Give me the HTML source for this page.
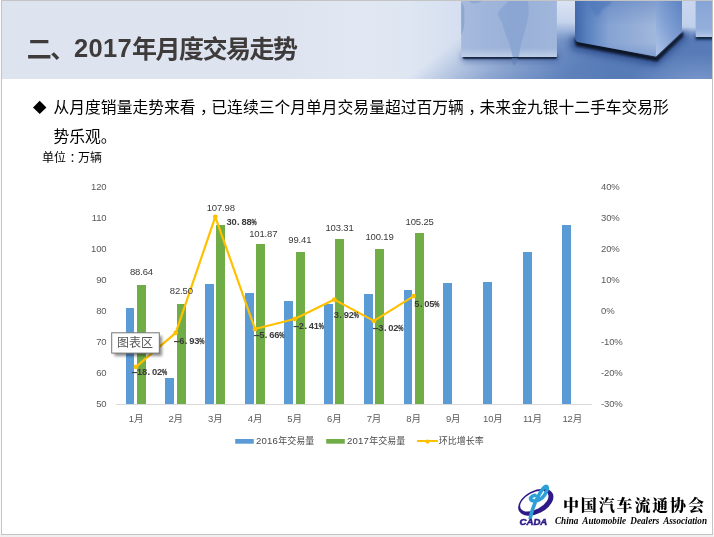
<!DOCTYPE html>
<html lang="zh-CN"><head><meta charset="utf-8"><title>二、2017年月度交易走势</title>
<style>
html,body{margin:0;padding:0;width:714px;height:537px;overflow:hidden;background:#f0f0f0;}
svg{position:absolute;left:0;top:0;display:block;}
text{font-family:"Liberation Sans","Noto Sans CJK SC",sans-serif;}
.ax{font-size:9.5px;fill:#595959;letter-spacing:-0.15px;}
.dl{font-size:9.5px;fill:#3a3a3a;text-anchor:middle;letter-spacing:-0.15px;}
.pl{font-weight:bold;font-size:9.4px;fill:#3c3c3c;}
.lg{font-size:9px;fill:#4a4a4a;}
.lgd{font-size:9.6px;letter-spacing:0.2px;}
.body{font-size:15.78px;fill:#000;}
.cn{font-family:"Liberation Serif","Noto Serif CJK SC",serif;font-size:16px;font-weight:900;fill:#000;letter-spacing:1.85px;}
.cada{font-size:8.6px;font-weight:bold;font-style:italic;fill:#2e1a87;stroke:#2e1a87;stroke-width:0.5px;}
.en{font-family:"Liberation Serif","Noto Serif CJK SC",serif;font-size:9.6px;font-style:italic;font-weight:bold;fill:#000;word-spacing:2px;}
</style></head><body>
<svg width="714" height="537" viewBox="0 0 714 537">
<defs>
<linearGradient id="bg" gradientUnits="userSpaceOnUse" x1="0" y1="0" x2="714" y2="0"><stop offset="0" stop-color="#dde4f0"/><stop offset="0.4" stop-color="#dde4f0"/><stop offset="0.5" stop-color="#e1e8f3"/><stop offset="0.57" stop-color="#dee6f2"/><stop offset="0.645" stop-color="#d5dff0"/><stop offset="1" stop-color="#d0dcf0"/></linearGradient>
<linearGradient id="floorx" gradientUnits="userSpaceOnUse" x1="410" y1="76.5" x2="472" y2="153"><stop offset="0" stop-color="#6385be" stop-opacity="0"/><stop offset="0.25" stop-color="#6385be" stop-opacity="0.3"/><stop offset="0.5" stop-color="#6385be" stop-opacity="0.62"/><stop offset="0.75" stop-color="#6385be" stop-opacity="0.85"/><stop offset="1" stop-color="#6385be" stop-opacity="1"/></linearGradient>
<linearGradient id="floorra" gradientUnits="userSpaceOnUse" x1="540" y1="0" x2="610" y2="0"><stop offset="0" stop-color="#5378b4" stop-opacity="0"/><stop offset="1" stop-color="#5378b4" stop-opacity="0.75"/></linearGradient>
<radialGradient id="floorlt" gradientUnits="userSpaceOnUse" cx="700" cy="84" r="70" gradientTransform="translate(700 84) scale(1 0.45) translate(-700 -84)"><stop offset="0" stop-color="#7f9ccf" stop-opacity="0.9"/><stop offset="1" stop-color="#7f9ccf" stop-opacity="0"/></radialGradient>
<linearGradient id="gap1" x1="0" y1="0" x2="0" y2="1"><stop offset="0" stop-color="#dbe4f3"/><stop offset="0.5" stop-color="#c6d4ec"/><stop offset="0.75" stop-color="#9fb5dc" stop-opacity="0.8"/><stop offset="1" stop-color="#7d9bce" stop-opacity="0"/></linearGradient>
<linearGradient id="gap2" x1="0" y1="0" x2="0" y2="1"><stop offset="0" stop-color="#c8d6ee"/><stop offset="0.65" stop-color="#c2d1eb"/><stop offset="0.8" stop-color="#8ea9d6" stop-opacity="0.7"/><stop offset="1" stop-color="#5f82bb" stop-opacity="0"/></linearGradient>
<linearGradient id="c1" x1="0" y1="0" x2="1" y2="0"><stop offset="0" stop-color="#a6badd"/><stop offset="0.25" stop-color="#a0b5da"/><stop offset="0.6" stop-color="#9ab1d8"/><stop offset="1" stop-color="#a0b6db"/></linearGradient>
<linearGradient id="c1hl" x1="0" y1="0" x2="0" y2="1"><stop offset="0" stop-color="#c3d2ea" stop-opacity="0"/><stop offset="1" stop-color="#c3d2ea" stop-opacity="0.9"/></linearGradient>
<linearGradient id="c2l" x1="0" y1="0" x2="1" y2="0"><stop offset="0" stop-color="#3f66a9"/><stop offset="0.14" stop-color="#5780be"/><stop offset="0.42" stop-color="#86a3d3"/><stop offset="1" stop-color="#a1b7dc"/></linearGradient>
<linearGradient id="c2lv" x1="0" y1="0" x2="0" y2="1"><stop offset="0" stop-color="#4d74b6" stop-opacity="0.4"/><stop offset="0.45" stop-color="#4d74b6" stop-opacity="0"/><stop offset="0.75" stop-color="#5f85c4" stop-opacity="0"/><stop offset="1" stop-color="#5f85c4" stop-opacity="0.45"/></linearGradient>
<linearGradient id="c2r" x1="1" y1="0" x2="0" y2="1"><stop offset="0" stop-color="#5d83c3"/><stop offset="0.5" stop-color="#809fd3"/><stop offset="1" stop-color="#b0c5e8"/></linearGradient>
<linearGradient id="c3" x1="0" y1="0" x2="0" y2="1"><stop offset="0" stop-color="#86a4d6"/><stop offset="0.8" stop-color="#94afdb"/><stop offset="1" stop-color="#b5c8e8"/></linearGradient>
<filter id="b05" x="-50%" y="-50%" width="200%" height="200%"><feGaussianBlur stdDeviation="0.5"/></filter>
<filter id="b1" x="-20%" y="-100%" width="140%" height="300%"><feGaussianBlur stdDeviation="0.8"/></filter>
<filter id="b2" x="-50%" y="-50%" width="200%" height="200%"><feGaussianBlur stdDeviation="1.5"/></filter>
<filter id="b3" x="-50%" y="-100%" width="200%" height="300%"><feGaussianBlur stdDeviation="3"/></filter>
<clipPath id="bclip"><rect x="2" y="1" width="710" height="78"/></clipPath>
<filter id="sh" x="-20%" y="-20%" width="150%" height="160%"><feGaussianBlur stdDeviation="1.5"/></filter>
</defs>
<rect x="0" y="0" width="714" height="537" fill="#f0f0f0"/>
<rect x="0" y="0" width="714" height="534" fill="#fbfbfb"/>
<rect x="1.5" y="0.5" width="711" height="534" fill="#fff" stroke="#c4c4c4" stroke-width="1"/>
<g clip-path="url(#bclip)">
<rect x="2" y="1" width="710" height="78" fill="url(#bg)"/>
<rect x="380" y="1" width="332" height="78" fill="url(#floorx)"/>
<rect x="540" y="1" width="172" height="78" fill="url(#floorra)"/>
<rect x="600" y="40" width="112" height="39" fill="url(#floorlt)"/>
<rect x="556" y="1" width="20" height="42" fill="url(#gap1)"/>
<rect x="682" y="1" width="14" height="40" fill="url(#gap2)"/>
<rect x="462" y="52" width="97" height="10" fill="#3f5f9f" opacity="0.6" filter="url(#b3)"/>
<rect x="463" y="55.5" width="94" height="3.2" fill="#16233f" filter="url(#b1)"/>
<rect x="463" y="56.4" width="93.5" height="2.2" rx="1" fill="#16233f" opacity="0.9"/>
<rect x="461.2" y="1" width="95.7" height="56" fill="url(#c1)"/>
<rect x="461.2" y="48" width="95.7" height="9" fill="url(#c1hl)"/>
<path d="M508.6 1 C505 5 501 8 499 11 C497 13.5 498 16 499.5 18.5 C501.5 21.5 502.5 24 503.5 27.5 C504.5 31 505.5 35 507.5 39 C509 42.5 510 46 511 50 C511.8 53 512.3 55 513 57 L519 57 C519.3 54 519.6 51 520.3 48 C521 44.5 522 41 523 37.5 C524.2 33.5 525.5 29.5 526.5 25 C527.5 20.5 528.6 16 528.7 11.5 C528.8 8 528.3 4.5 528 1 Z" fill="#86a3d1" opacity="0.75" filter="url(#b05)"/>
<path d="M511.5 58 C512 61.5 512.8 64.5 514.3 66 C515.5 64 517 61 517.8 58 Z" fill="#5f7fb8" opacity="0.55" filter="url(#b05)"/>
<path d="M461.2 2 C463.5 4 464.5 7 464.3 11 C464.2 16 465 21 464 26 C463.5 30 462.5 33 461.2 35 Z M469 1 L482.5 1 C480 3 476 3.5 472.5 3.3 C471 3 470 2 469 1 Z" fill="#86a3d1" opacity="0.75" filter="url(#b05)"/>
<path d="M571 36 L656 57 L685 30 L688 37 L657 66 L571 50 Z" fill="#2a4a8a" opacity="0.75" filter="url(#b3)"/>
<path d="M574.5 38 L656 56.5 L683 31.5 L683.5 36 L657 61.5 L576 46 Z" fill="#0a1226" filter="url(#b1)"/>
<path d="M575 1 L656 1 L656 56.5 L578.5 42.3 Q575 41.5 575 38 Z" fill="url(#c2l)"/>
<path d="M575 1 L656 1 L656 56.5 L578.5 42.3 Q575 41.5 575 38 Z" fill="url(#c2lv)"/>
<path d="M656 1 L682 1 L682 32 L656 56.5 Z" fill="url(#c2r)"/>
<path d="M656.5 1 L656.5 56" stroke="#b7caea" stroke-width="2.5" opacity="0.6" filter="url(#b1)"/>
<path d="M575.6 1 L575.6 39" stroke="#0f1a33" stroke-width="1.8" opacity="0.9" filter="url(#b05)"/>
<path d="M681.8 1 L681.8 31" stroke="#2a4280" stroke-width="1.2" opacity="0.6" filter="url(#b05)"/>
<path d="M588 1 L612 1 C611 5 606 6 603 9 C600 13 598 18 595 15 C592 11 590 6 588 1 Z" fill="#4f77ba" opacity="0.6" filter="url(#b1)"/>
<rect x="695" y="33" width="19" height="8" fill="#2f4f8f" opacity="0.6" filter="url(#b2)"/>
<rect x="696" y="35.5" width="18" height="3.5" fill="#0f1a33" filter="url(#b1)"/>
<rect x="695.6" y="1" width="17" height="36" fill="url(#c3)"/>
</g>
<text x="26.7" y="58.4" style="font-size:25px;font-weight:bold;fill:#3f3b3b;letter-spacing:-1.5px">二、<tspan dx="0.2" dy="-1.6" style="font-size:25.5px;letter-spacing:0.33px">2017</tspan><tspan dx="0.1" dy="1.6">年月度交易走势</tspan></text>
<path d="M39.7 100.8 L46.4 107.4 L39.7 114 L33 107.4 Z" fill="#000"/>
<text class="body" x="53.5" y="113.3" dx="0 0 0 0 0 0 0 0 0 4.5 -4.5 0 0 0 0 0 0 0 0 0 0 0 0 0 0 0 4.5 -4.5">从月度销量走势来看，已连续三个月单月交易量超过百万辆，未来金九银十二手车交易形</text>
<text class="body" x="53.5" y="142.2">势乐观。</text>
<text x="42" y="161.5" dx="0 0 3.5 -3.5" style="font-size:12px;fill:#000;">单位：万辆</text>
<line x1="116.2" y1="404.5" x2="592.0" y2="404.5" stroke="#d9d9d9" stroke-width="1"/>
<rect x="126" y="308" width="8" height="96" fill="#5b9bd5"/>
<rect x="165" y="378" width="9" height="26" fill="#5b9bd5"/>
<rect x="205" y="284" width="9" height="120" fill="#5b9bd5"/>
<rect x="245" y="293" width="9" height="111" fill="#5b9bd5"/>
<rect x="284" y="301" width="9" height="103" fill="#5b9bd5"/>
<rect x="324" y="304" width="9" height="100" fill="#5b9bd5"/>
<rect x="364" y="294" width="9" height="110" fill="#5b9bd5"/>
<rect x="404" y="290" width="8" height="114" fill="#5b9bd5"/>
<rect x="443" y="283" width="9" height="121" fill="#5b9bd5"/>
<rect x="483" y="282" width="9" height="122" fill="#5b9bd5"/>
<rect x="523" y="252" width="9" height="152" fill="#5b9bd5"/>
<rect x="562" y="225" width="9" height="179" fill="#5b9bd5"/>
<rect x="137" y="285" width="9" height="119" fill="#70ad47"/>
<rect x="177" y="304" width="9" height="100" fill="#70ad47"/>
<rect x="216" y="225" width="9" height="179" fill="#70ad47"/>
<rect x="256" y="244" width="9" height="160" fill="#70ad47"/>
<rect x="296" y="252" width="9" height="152" fill="#70ad47"/>
<rect x="335" y="239" width="9" height="165" fill="#70ad47"/>
<rect x="375" y="249" width="9" height="155" fill="#70ad47"/>
<rect x="415" y="233" width="9" height="171" fill="#70ad47"/>
<text class="ax" x="106.5" y="406.5" text-anchor="end">50</text>
<text class="ax" x="106.5" y="375.5" text-anchor="end">60</text>
<text class="ax" x="106.5" y="344.5" text-anchor="end">70</text>
<text class="ax" x="106.5" y="313.5" text-anchor="end">80</text>
<text class="ax" x="106.5" y="282.5" text-anchor="end">90</text>
<text class="ax" x="106.5" y="251.5" text-anchor="end">100</text>
<text class="ax" x="106.5" y="220.5" text-anchor="end">110</text>
<text class="ax" x="106.5" y="189.5" text-anchor="end">120</text>
<text class="ax" x="601" y="406.5">-30%</text>
<text class="ax" x="601" y="375.5">-20%</text>
<text class="ax" x="601" y="344.5">-10%</text>
<text class="ax" x="601" y="313.5">0%</text>
<text class="ax" x="601" y="282.5">10%</text>
<text class="ax" x="601" y="251.5">20%</text>
<text class="ax" x="601" y="220.5">30%</text>
<text class="ax" x="601" y="189.5">40%</text>
<text class="ax" x="136.0" y="422" text-anchor="middle">1月</text>
<text class="ax" x="175.7" y="422" text-anchor="middle">2月</text>
<text class="ax" x="215.3" y="422" text-anchor="middle">3月</text>
<text class="ax" x="255.0" y="422" text-anchor="middle">4月</text>
<text class="ax" x="294.6" y="422" text-anchor="middle">5月</text>
<text class="ax" x="334.3" y="422" text-anchor="middle">6月</text>
<text class="ax" x="373.9" y="422" text-anchor="middle">7月</text>
<text class="ax" x="413.6" y="422" text-anchor="middle">8月</text>
<text class="ax" x="453.2" y="422" text-anchor="middle">9月</text>
<text class="ax" x="492.9" y="422" text-anchor="middle">10月</text>
<text class="ax" x="532.5" y="422" text-anchor="middle">11月</text>
<text class="ax" x="572.2" y="422" text-anchor="middle">12月</text>
<polyline points="136.0,366.9 175.7,332.9 215.3,216.8 255.0,329.0 294.6,319.0 334.3,299.6 373.9,320.9 413.6,296.1" fill="none" stroke="#ffc000" stroke-width="2.2" stroke-linejoin="round" stroke-linecap="round"/>
<circle cx="136.0" cy="366.9" r="2.4" fill="#ffc000"/>
<circle cx="175.7" cy="332.9" r="2.4" fill="#ffc000"/>
<circle cx="215.3" cy="216.8" r="2.4" fill="#ffc000"/>
<circle cx="255.0" cy="329.0" r="2.4" fill="#ffc000"/>
<circle cx="294.6" cy="319.0" r="2.4" fill="#ffc000"/>
<circle cx="334.3" cy="299.6" r="2.4" fill="#ffc000"/>
<circle cx="373.9" cy="320.9" r="2.4" fill="#ffc000"/>
<circle cx="413.6" cy="296.1" r="2.4" fill="#ffc000"/>
<text class="dl" x="141.5" y="275.3">88.64</text>
<text class="dl" x="181.3" y="294.4">82.50</text>
<text class="dl" x="220.8" y="210.7">107.98</text>
<text class="dl" x="263.3" y="236.6">101.87</text>
<text class="dl" x="299.8" y="242.7">99.41</text>
<text class="dl" x="339.5" y="230.7">103.31</text>
<text class="dl" x="379.5" y="239.7">100.19</text>
<text class="dl" x="419.6" y="224.5">105.25</text>
<text class="pl" y="375.0"><tspan x="130.9" textLength="7" lengthAdjust="spacingAndGlyphs">-</tspan><tspan x="136.9 141.9 147.5 151.9 156.9">18.02</tspan><tspan x="161.9" textLength="5.2" lengthAdjust="spacingAndGlyphs" stroke="#3c3c3c" stroke-width="0.3">%</tspan></text>
<text class="pl" y="344.3"><tspan x="173.2" textLength="7" lengthAdjust="spacingAndGlyphs">-</tspan><tspan x="179.2 184.8 189.2 194.2">6.93</tspan><tspan x="199.2" textLength="5.2" lengthAdjust="spacingAndGlyphs" stroke="#3c3c3c" stroke-width="0.3">%</tspan></text>
<text class="pl" y="224.9"><tspan x="226.4 231.4 237.0 241.4 246.4">30.88</tspan><tspan x="251.4" textLength="5.2" lengthAdjust="spacingAndGlyphs" stroke="#3c3c3c" stroke-width="0.3">%</tspan></text>
<text class="pl" y="338.2"><tspan x="253.2" textLength="7" lengthAdjust="spacingAndGlyphs">-</tspan><tspan x="259.2 264.8 269.2 274.2">5.66</tspan><tspan x="279.2" textLength="5.2" lengthAdjust="spacingAndGlyphs" stroke="#3c3c3c" stroke-width="0.3">%</tspan></text>
<text class="pl" y="329.1"><tspan x="292.8" textLength="7" lengthAdjust="spacingAndGlyphs">-</tspan><tspan x="298.8 304.4 308.8 313.8">2.41</tspan><tspan x="318.8" textLength="5.2" lengthAdjust="spacingAndGlyphs" stroke="#3c3c3c" stroke-width="0.3">%</tspan></text>
<text class="pl" y="318.0"><tspan x="333.7 339.3 343.7 348.7">3.92</tspan><tspan x="353.7" textLength="5.2" lengthAdjust="spacingAndGlyphs" stroke="#3c3c3c" stroke-width="0.3">%</tspan></text>
<text class="pl" y="331.1"><tspan x="372.3" textLength="7" lengthAdjust="spacingAndGlyphs">-</tspan><tspan x="378.3 383.9 388.3 393.3">3.02</tspan><tspan x="398.3" textLength="5.2" lengthAdjust="spacingAndGlyphs" stroke="#3c3c3c" stroke-width="0.3">%</tspan></text>
<text class="pl" y="307.2"><tspan x="414.3 419.9 424.3 429.3">5.05</tspan><tspan x="434.3" textLength="5.2" lengthAdjust="spacingAndGlyphs" stroke="#3c3c3c" stroke-width="0.3">%</tspan></text>
<rect x="235.2" y="439" width="18.6" height="4.7" fill="#5b9bd5"/>
<text class="lg" x="256" y="444.3"><tspan class="lgd">2016</tspan>年交易量</text>
<rect x="326.2" y="439" width="18.6" height="4.7" fill="#70ad47"/>
<text class="lg" x="347" y="444.3"><tspan class="lgd">2017</tspan>年交易量</text>
<line x1="417.8" y1="441" x2="437.2" y2="441" stroke="#ffc000" stroke-width="1.8" stroke-linecap="round"/>
<circle cx="427.5" cy="441.6" r="2.1" fill="#ffc000"/>
<text class="lg" x="438.7" y="444.3">环比增长率</text>
<rect x="114.5" y="336" width="47.5" height="20" fill="#000" opacity="0.45" filter="url(#sh)"/>
<rect x="111.7" y="332.8" width="47.6" height="20.3" fill="#fff" stroke="#767676" stroke-width="1"/>
<text x="117" y="347.2" style="font-size:12px;fill:#575757;">图表区</text>
<g>
<g transform="rotate(-28 535.8 502.2)"><path fill-rule="evenodd" fill="#2e1a87" d="M516.8 502.2 a19 11.5 0 1 0 38 0 a19 11.5 0 1 0 -38 0 Z M519.6 500.6 a15.4 8.4 0 1 0 30.8 0 a15.4 8.4 0 1 0 -30.8 0 Z"/></g>
<path d="M530.3 518 C532 510 535.5 500 540 493 C542.5 489 545.3 485.2 546.8 486.6 C548.3 488.5 546 494 542.5 497.5 C539.5 500.5 534 502 531.5 500.3 C529.3 498.6 531.5 495.8 535 495.3" fill="none" stroke="#2da0d8" stroke-width="3.6" stroke-linecap="round" stroke-linejoin="round"/>
<text class="cada" x="519.5" y="525.4" textLength="27.8" lengthAdjust="spacingAndGlyphs">CADA</text>
<text class="cn" x="563" y="511.2">中国汽车流通协会</text>
<text class="en" x="555" y="524.3" textLength="152" lengthAdjust="spacingAndGlyphs">China Automobile Dealers Association</text>
</g>
</svg>
</body></html>
